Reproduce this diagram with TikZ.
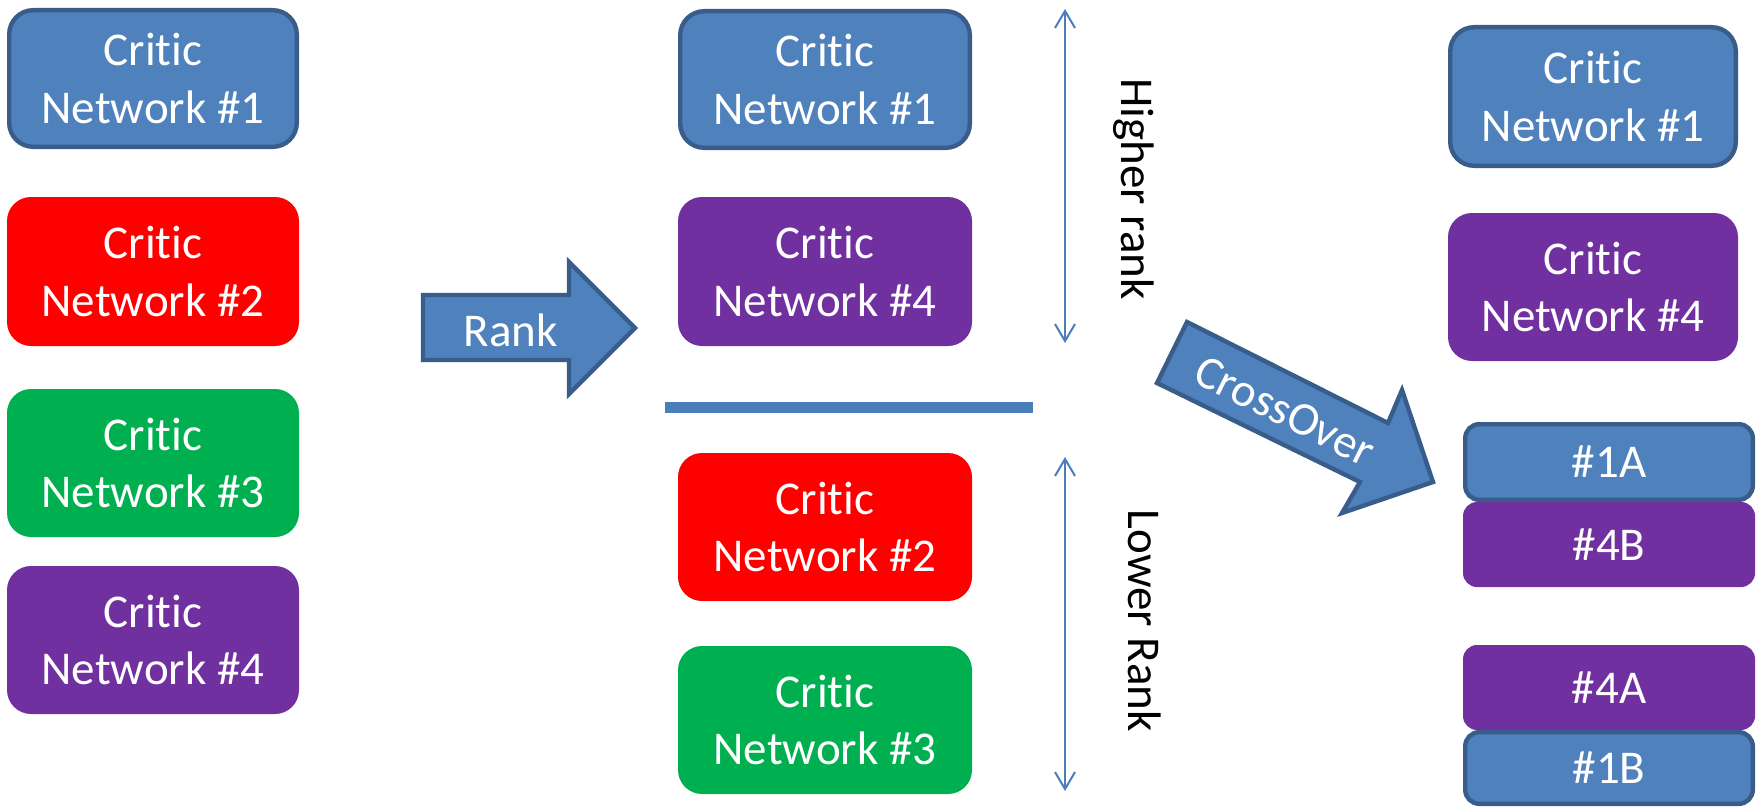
\documentclass[tikz,border=0pt]{standalone}
\usepackage{fontspec}
\setmainfont{Carlito}[Ligatures={NoCommon,NoContextual}]
\usetikzlibrary{arrows.meta}
\definecolor{cblue}{HTML}{4F81BD}
\definecolor{cblueedge}{HTML}{385D8A}
\definecolor{cred}{HTML}{FF0000}
\definecolor{cgreen}{HTML}{00B050}
\definecolor{cpurple}{HTML}{7030A0}
\definecolor{cline}{HTML}{4A7EBB}
\begin{document}
\begin{tikzpicture}[x=0.5pt,y=-0.5pt,
  lbl/.style={font=\fontsize{23.5}{28.7}\selectfont},
  netbox/.style={lbl, text=white, align=center, rounded corners=12pt, inner sep=0pt},
  smallbox/.style={netbox, rounded corners=7pt},
  bordered/.style={fill=cblue, draw=cblueedge, line width=2.2pt},
  redbox/.style={fill=cred},
  greenbox/.style={fill=cgreen},
  purplebox/.style={fill=cpurple},
  bigarrow/.style={fill=cblue, draw=cblueedge, line width=2.2pt},
  rankline/.style={draw=cline, line width=1pt, {Straight Barb[length=8.5pt,width=10pt,line width=1pt]}-{Straight Barb[length=8.5pt,width=10pt,line width=1pt]}},
  sidelabel/.style={lbl, text=black, rotate=-90, inner sep=0pt}
]
\fill[white] (0,0) rectangle (1760,808);
\useasboundingbox (0,0) rectangle (1760,808);

% left column
\node[netbox, bordered, minimum width=143.8pt, minimum height=68.3pt] (l1) at (153,78.5) {Critic\\Network \#1};
\node[netbox, redbox, minimum width=146pt, minimum height=74.5pt] (l2) at (153,271.5) {Critic\\Network \#2};
\node[netbox, greenbox, minimum width=146pt, minimum height=74pt] (l3) at (153,463) {Critic\\Network \#3};
\node[netbox, purplebox, minimum width=146pt, minimum height=74pt] (l4) at (153,640) {Critic\\Network \#4};

% rank arrow
\draw[bigarrow] (423,295) -- (569,295) -- (569,262) -- (635,328) -- (569,394) -- (569,360) -- (423,360) -- cycle;
\node[lbl, text=white, inner sep=0pt] (rank) at (511,330) {Rank};

% middle column
\node[netbox, bordered, minimum width=144.8pt, minimum height=68.3pt] (m1) at (825,79.5) {Critic\\Network \#1};
\node[netbox, purplebox, minimum width=147pt, minimum height=74.5pt] (m4) at (825,271.5) {Critic\\Network \#4};
\fill[cline] (665,402) rectangle (1033,413);
\node[netbox, redbox, minimum width=147pt, minimum height=74pt] (m2) at (825,527) {Critic\\Network \#2};
\node[netbox, greenbox, minimum width=147pt, minimum height=74pt] (m3) at (825,720) {Critic\\Network \#3};

% rank indicators
\coordinate (hTop) at (1065,9);
\coordinate (hBot) at (1065,343);
\coordinate (lTop) at (1065,457);
\coordinate (lBot) at (1065,791);
\draw[rankline] (hTop) -- (hBot);
\draw[rankline] (lTop) -- (lBot);
\node[sidelabel] (higher) at (1134,189) {Higher rank};
\node[sidelabel] (lower) at (1145,621) {Lower Rank};

% crossover arrow
\draw[bigarrow] (1187,322) -- (1388,423) -- (1402,390) -- (1433,482) -- (1342,513) -- (1360,482) -- (1157,383) -- cycle;
\node[lbl, text=white, inner sep=0pt, rotate=-26.5] (cross) at (1285,411) {CrossOver};

% right column
\node[netbox, bordered, minimum width=142.8pt, minimum height=69.3pt] (r1) at (1593,96.5) {Critic\\Network \#1};
\node[netbox, purplebox, minimum width=145pt, minimum height=74pt] (r4) at (1593,287) {Critic\\Network \#4};
\node[smallbox, bordered, minimum width=143.8pt, minimum height=37.8pt] (s1a) at (1609,462) {\#1A};
\node[smallbox, purplebox, minimum width=146pt, minimum height=42.5pt] (s4b) at (1609,544.5) {\#4B};
\node[smallbox, purplebox, minimum width=146pt, minimum height=42.5pt] (s4a) at (1609,687.5) {\#4A};
\node[smallbox, bordered, minimum width=143.8pt, minimum height=35.8pt] (s1b) at (1609,768) {\#1B};
\end{tikzpicture}
\end{document}
